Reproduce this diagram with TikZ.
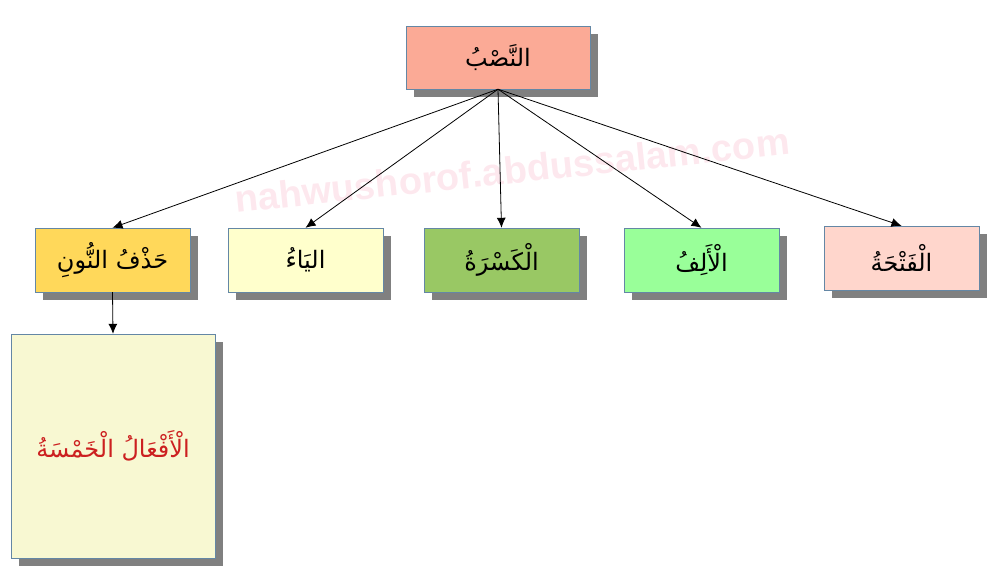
\documentclass[tikz,border=0pt]{standalone}
\usepackage{fontspec}
\newfontfamily\arabicfont[Script=Arabic]{DejaVu Sans}
\newfontfamily\markfont{Liberation Sans}
\TeXXeTstate=1
\usepackage{tikz}
\usetikzlibrary{arrows,arrows.meta,shapes,shadows,positioning}
\definecolor{boxline}{RGB}{100,135,165}
\definecolor{shadowgray}{RGB}{128,128,128}
\definecolor{markpink}{RGB}{253,232,238}
\definecolor{nasbfill}{RGB}{251,170,150}
\definecolor{nunfill}{RGB}{255,216,90}
\definecolor{yafill}{RGB}{255,255,204}
\definecolor{kasrafill}{RGB}{153,200,100}
\definecolor{alifill}{RGB}{153,255,153}
\definecolor{fathafill}{RGB}{255,214,204}
\definecolor{afalfill}{RGB}{248,248,210}
\definecolor{afaltext}{RGB}{204,32,32}

\begin{document}
\begin{tikzpicture}[x=1pt,y=-1pt, >={Latex[length=10pt,width=9pt]}, every node/.style={font=\arabicfont\fontsize{24}{28}\selectfont}, box/.style={draw=boxline,thin,minimum width=155pt,minimum height=64pt,inner sep=0pt,drop shadow={shadow xshift=8pt,shadow yshift=-8pt,fill=shadowgray,opacity=1}}]
        \useasboundingbox (0,0) rectangle (996,587);
        \node[rotate=6,text=markpink,font=\markfont\bfseries\fontsize{38}{42}\selectfont] (mark) at (512,170) {nahwushorof.abdussalam.com};

        \node[box,fill=nasbfill,minimum width=184pt,minimum height=63pt] (nasb) at (498,57.5) {\beginR النَّصْبُ\endR};

        \node[box,fill=nunfill]   (nun)   at (112.5,260) {\beginR حَذْفُ النُّونِ\endR};
        \node[box,fill=yafill]    (ya)    at (305.5,260) {\beginR اليَاءُ\endR};
        \node[box,fill=kasrafill] (kasra) at (501.5,260) {\beginR الْكَسْرَةُ\endR};
        \node[box,fill=alifill]   (alif)  at (701.5,260) {\beginR الْأَلِفُ\endR};
        \node[box,fill=fathafill] (fatha) at (901.5,258) {\beginR الْفَتْحَةُ\endR};

        \node[box,fill=afalfill,text=afaltext,minimum width=204pt,minimum height=224pt] (afal) at (113,446) {\beginR الْأَفْعَالُ الْخَمْسَةُ\endR};

        \path[->,thick] (nasb.south) edge (nun.north)
                        (nasb.south) edge (ya.north)
                        (nasb.south) edge (kasra.north)
                        (nasb.south) edge (alif.north)
                        (nasb.south) edge (fatha.north)
                        (nun.south)  edge (afal.north);
\end{tikzpicture}
\end{document}
